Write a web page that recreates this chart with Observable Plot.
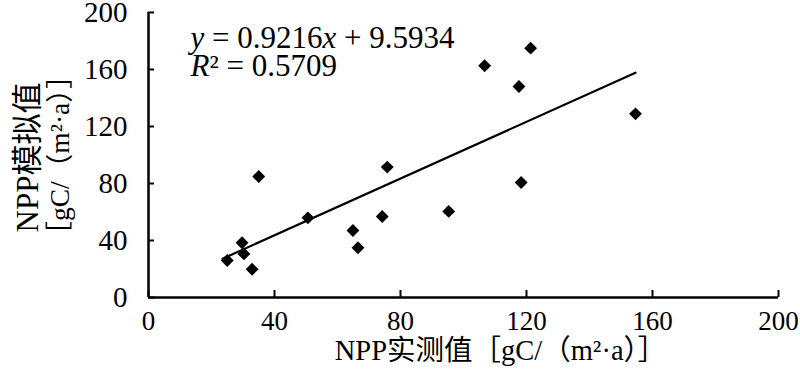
<!DOCTYPE html>
<html><head><meta charset="utf-8">
<script src="https://cdn.jsdelivr.net/npm/d3@7"></script>
<script src="https://cdn.jsdelivr.net/npm/@observablehq/plot@0.6"></script>
<style>body{margin:0;background:#fff} svg text{font-family:"Liberation Serif","Times New Roman","Noto Sans CJK SC",serif}</style>
</head><body><div id="chart"></div>
<script>
// Observed NPP (x) and simulated NPP (y), gC/(m²·a)
const observed  = [25.0, 29.7, 30.3, 32.9, 35.0, 50.6, 64.9, 66.5, 74.2, 75.8, 95.3, 106.7, 117.6, 118.3, 121.3, 154.6];
const simulated = [26.0, 38.4, 30.6, 19.8, 84.9, 55.9, 47.0, 34.9, 56.8, 91.5, 60.4, 162.6, 148.1, 80.7, 175.0, 128.9];
// fitted trend line end points as drawn
const trendX = [23.5, 154.6];
const trendY = [27.2, 157.8];
const xTicks = [0, 40, 80, 120, 160, 200];
const yTicks = [0, 40, 80, 120, 160, 200];
const eqLines = ["y = 0.9216x + 9.5934", "R² = 0.5709"];
const xTitle = "NPP实测值［gC/（m²·a）］";
const yTitle1 = "NPP模拟值";
const yTitle2 = "［gC/（m²·a）］";

const FONT = '"Liberation Serif", "Times New Roman", "Noto Sans CJK SC", serif';
const points = observed.map((o, i) => ({o, s: simulated[i]}));
const trend = trendX.map((x, i) => ({x, y: trendY[i]}));

const plot = Plot.plot({
  width: 800, height: 379,
  marginLeft: 148, marginRight: 22, marginTop: 12, marginBottom: 82,
  style: {fontFamily: FONT, background: "#fff", color: "#000", overflow: "visible"},
  x: {domain: [0, 200]},
  y: {domain: [0, 200]},
  marks: [
    Plot.axisY(yTicks, {tickSize: -6, tickPadding: 27, fontSize: 29, fontFamily: FONT, label: null, strokeWidth: 2}),
    Plot.axisX(xTicks, {tickSize: -7, tickPadding: 20, fontSize: 27, fontFamily: FONT, label: null, strokeWidth: 2}),
    Plot.ruleX([0], {strokeWidth: 2.5}),
    Plot.ruleY([0], {strokeWidth: 2.5}),
    Plot.line(trend, {x: "x", y: "y", strokeWidth: 2.2}),
    Plot.dot(points, {x: "o", y: "s", symbol: "diamond2", r: 5.8, fill: "#000", stroke: null}),
    Plot.text([eqLines[0]], {frameAnchor: "top-left", dx: 42, dy: 13, lineAnchor: "top", textAnchor: "start", fontSize: 31, fontFamily: FONT, className: "eq"}),
    Plot.text([eqLines[1]], {frameAnchor: "top-left", dx: 42, dy: 41, lineAnchor: "top", textAnchor: "start", fontSize: 31, fontFamily: FONT, className: "eq"}),
    Plot.text([xTitle], {frameAnchor: "bottom", dx: 37, dy: 42, lineAnchor: "top", textAnchor: "middle", fontSize: 28.5, fontFamily: FONT}),
    Plot.text([yTitle1], {frameAnchor: "left", rotate: -90, dx: -120, dy: 2.5, lineAnchor: "middle", textAnchor: "middle", fontSize: 31, fontFamily: FONT}),
    Plot.text([yTitle2], {frameAnchor: "left", rotate: -90, dx: -88, dy: 0, lineAnchor: "middle", textAnchor: "middle", fontSize: 27.5, fontFamily: FONT})
  ]
});

// italicise variable letters in the regression equation
d3.select(plot).selectAll("g.eq text").each(function() {
  const t = this.textContent;
  const sel = d3.select(this);
  sel.text(null);
  const parts = t.match(/[A-Za-z]+|[^A-Za-z]+/g);
  for (const p of parts) {
    const ts = sel.append("tspan").text(p);
    if (/[A-Za-z]/.test(p)) ts.attr("font-style", "italic");
  }
});

document.getElementById("chart").append(plot);
</script></body></html>
